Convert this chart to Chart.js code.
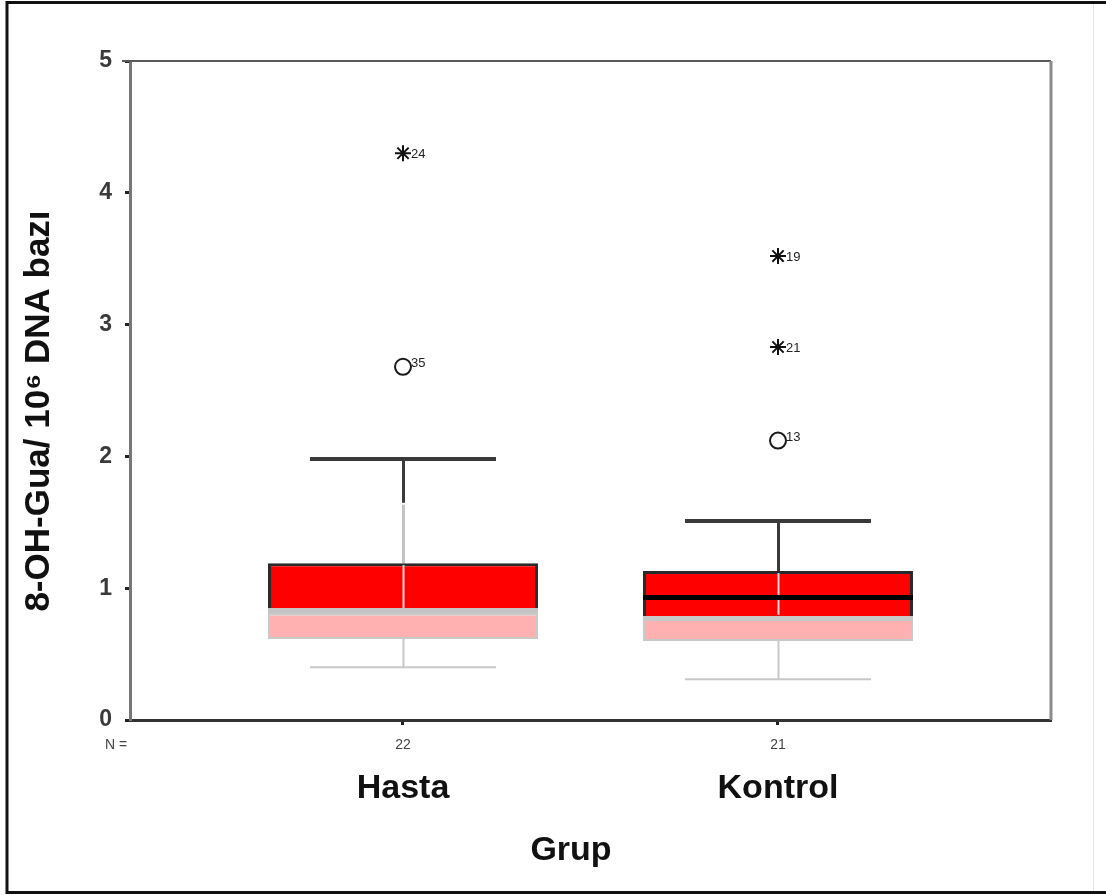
<!DOCTYPE html>
<html>
<head>
<meta charset="utf-8">
<script src="https://cdn.jsdelivr.net/npm/chart.js@4"></script>
<style>
  html, body { margin: 0; padding: 0; background: #fff; }
  canvas { display: block; }
</style>
</head>
<body>
<canvas id="c" width="1106" height="895"></canvas>
<script>
// ---------------- data ----------------
const categories   = ['Hasta', 'Kontrol'];
const groupX       = [1, 2];
const nCounts      = [22, 21];
const whiskerLow   = [0.40, 0.31];
const q1           = [0.615, 0.60];
const fadeSplit    = [0.83, 0.79];   // where the scanned red fill turns pink
const median       = [0.83, 0.93];
const q3           = [1.19, 1.13];
const whiskerHigh  = [1.98, 1.51];
const circleGroups = [1, 2];
const circleValues = [2.68, 2.12];
const circleIds    = ['35', '13'];
const starGroups   = [1, 2, 2];
const starValues   = [4.30, 2.83, 3.52];
const starIds      = ['24', '21', '19'];
const yTicks       = [0, 1, 2, 3, 4, 5];
const yTitle       = '8-OH-Gua/ 10\u2076 DNA baz\u0131';
const xTitle       = 'Grup';

// ---------------- styles ----------------
const FONT = '"Liberation Sans", Arial, Helvetica, sans-serif';
const medianColors   = ['#c4c4c4', '#000000'];
const upperDarkFrac  = [0.42, 1.0];
const capHalfUnits   = 0.248;

const redData  = groupX.map((x, i) => ({ x, y: [fadeSplit[i], q3[i]] }));
const pinkData = groupX.map((x, i) => ({ x, y: [q1[i], fadeSplit[i]] }));
const circleData = circleGroups.map((g, i) => ({ x: g, y: circleValues[i] }));
const starData   = starGroups.map((g, i) => ({ x: g, y: starValues[i] }));

const extras = {
  id: 'extras',
  beforeDraw(chart) {
    const ctx = chart.ctx;
    ctx.save();
    ctx.fillStyle = '#fff';
    ctx.fillRect(0, 0, chart.width, chart.height);
    ctx.strokeStyle = '#111';
    ctx.lineWidth = 3;
    ctx.beginPath();
    ctx.moveTo(1106, 2.5); ctx.lineTo(7, 2.5); ctx.lineTo(7, 892.5); ctx.lineTo(1106, 892.5);
    ctx.stroke();
    ctx.strokeStyle = '#e6e6e6';
    ctx.lineWidth = 1;
    ctx.beginPath(); ctx.moveTo(1093.5, 4); ctx.lineTo(1093.5, 891); ctx.stroke();
    ctx.restore();
  },
  beforeDatasetsDraw(chart) {
    const ctx = chart.ctx, xs = chart.scales.x, ys = chart.scales.y;
    ctx.save();
    groupX.forEach((g, i) => {
      const cx = Math.round(xs.getPixelForValue(g)) + 0.5;
      const l = xs.getPixelForValue(g - capHalfUnits), r = xs.getPixelForValue(g + capHalfUnits);
      const yTop = ys.getPixelForValue(whiskerHigh[i]);
      const yQ3 = ys.getPixelForValue(q3[i]);
      const yMid = yTop + (yQ3 - yTop) * upperDarkFrac[i];
      ctx.lineCap = 'butt';
      ctx.strokeStyle = '#3a3a3a'; ctx.lineWidth = 3;
      ctx.beginPath(); ctx.moveTo(cx, yTop); ctx.lineTo(cx, yMid); ctx.stroke();
      ctx.strokeStyle = '#c2c2c2'; ctx.lineWidth = 3;
      ctx.beginPath(); ctx.moveTo(cx, yMid + 2); ctx.lineTo(cx, yQ3); ctx.stroke();
      ctx.strokeStyle = '#3a3a3a'; ctx.lineWidth = 4;
      ctx.beginPath(); ctx.moveTo(l, yTop); ctx.lineTo(r, yTop); ctx.stroke();
      const yLow = ys.getPixelForValue(whiskerLow[i]);
      const yQ1 = ys.getPixelForValue(q1[i]);
      ctx.strokeStyle = '#c8c8c8'; ctx.lineWidth = 2;
      ctx.beginPath(); ctx.moveTo(cx, yQ1); ctx.lineTo(cx, yLow); ctx.stroke();
      ctx.beginPath(); ctx.moveTo(l, yLow); ctx.lineTo(r, yLow); ctx.stroke();
    });
    ctx.restore();
  },
  afterDatasetsDraw(chart) {
    const ctx = chart.ctx, xs = chart.scales.x, ys = chart.scales.y;
    ctx.save();
    const boxMeta = chart.getDatasetMeta(0);
    groupX.forEach((g, i) => {
      const bar = boxMeta.data[i];
      const half = bar.width / 2;
      const cx = Math.round(xs.getPixelForValue(g)) + 0.5;
      ctx.strokeStyle = 'rgba(255,255,255,0.85)'; ctx.lineWidth = 2;
      ctx.beginPath();
      ctx.moveTo(cx, ys.getPixelForValue(q3[i]) + 2);
      ctx.lineTo(cx, ys.getPixelForValue(fadeSplit[i]) - 1);
      ctx.stroke();
      const ym = ys.getPixelForValue(median[i]);
      ctx.strokeStyle = medianColors[i]; ctx.lineWidth = 5;
      ctx.beginPath(); ctx.moveTo(bar.x - half, ym); ctx.lineTo(bar.x + half, ym); ctx.stroke();
    });
    ctx.fillStyle = '#222';
    ctx.font = '13px ' + FONT;
    ctx.textAlign = 'left';
    ctx.textBaseline = 'middle';
    circleGroups.forEach((g, i) => {
      ctx.fillText(circleIds[i], xs.getPixelForValue(g) + 8, ys.getPixelForValue(circleValues[i]) - 3);
    });
    starGroups.forEach((g, i) => {
      ctx.fillText(starIds[i], xs.getPixelForValue(g) + 8, ys.getPixelForValue(starValues[i]) + 1);
    });
    ctx.restore();
  },
  afterDraw(chart) {
    const ctx = chart.ctx, a = chart.chartArea, xs = chart.scales.x;
    ctx.save();
    ctx.strokeStyle = '#5a5a5a'; ctx.lineWidth = 2;
    ctx.beginPath(); ctx.moveTo(a.left - 8, a.top); ctx.lineTo(a.right, a.top); ctx.stroke();
    ctx.strokeStyle = '#8a8a8a'; ctx.lineWidth = 3;
    ctx.beginPath(); ctx.moveTo(a.right, a.top); ctx.lineTo(a.right, a.bottom); ctx.stroke();
    ctx.fillStyle = '#444';
    ctx.font = '14px "Liberation Sans Narrow", ' + FONT;
    ctx.textBaseline = 'middle';
    ctx.textAlign = 'center';
    ctx.fillText('N =', 116, 745);
    groupX.forEach((g, i) => ctx.fillText(String(nCounts[i]), xs.getPixelForValue(g), 745));
    ctx.fillStyle = '#111';
    ctx.font = 'bold 34px ' + FONT;
    ctx.textBaseline = 'alphabetic';
    ctx.fillText(xTitle, 571, 860);
    ctx.translate(39, 411);
    ctx.rotate(-Math.PI / 2);
    ctx.font = 'bold 35px ' + FONT;
    ctx.textBaseline = 'middle';
    ctx.fillText(yTitle, 0, 0);
    ctx.restore();
  }
};

new Chart(document.getElementById('c'), {
  type: 'bar',
  data: {
    datasets: [
      {
        label: 'box-upper',
        data: redData,
        backgroundColor: '#ff0000',
        borderColor: '#2a2a2a',
        borderWidth: { top: 3, left: 3, right: 3, bottom: 0 },
        borderSkipped: false,
        grouped: false,
        categoryPercentage: 0.8,
        barPercentage: 0.9,
        order: 2
      },
      {
        label: 'box-lower',
        data: pinkData,
        backgroundColor: '#ffb1b1',
        borderColor: '#c9c9c9',
        borderWidth: { top: 5, left: 2, right: 2, bottom: 2 },
        borderSkipped: false,
        grouped: false,
        categoryPercentage: 0.8,
        barPercentage: 0.9,
        order: 3
      },
      {
        type: 'scatter',
        label: 'outliers',
        data: circleData,
        pointStyle: 'circle',
        radius: 8,
        backgroundColor: '#fff',
        borderColor: '#1a1a1a',
        borderWidth: 2,
        order: 1
      },
      {
        type: 'scatter',
        label: 'extremes',
        data: starData,
        pointStyle: 'star',
        radius: 8,
        backgroundColor: '#111',
        borderColor: '#111',
        borderWidth: 2,
        order: 0
      }
    ]
  },
  options: {
    responsive: false,
    animation: false,
    events: [],
    layout: { autoPadding: false, padding: { top: 61, right: 55, left: 0, bottom: 0 } },
    plugins: { legend: { display: false }, tooltip: { enabled: false } },
    scales: {
      x: {
        type: 'linear',
        offset: false,
        min: 0.272,
        max: 2.728,
        afterFit(s) { s.height = 175; },
        afterBuildTicks(s) { s.ticks = groupX.map(v => ({ value: v })); },
        grid: { offset: false, drawOnChartArea: false, drawTicks: true, tickLength: 5, tickWidth: 3, tickColor: '#222' },
        border: { display: true, color: '#333', width: 3 },
        ticks: {
          autoSkip: false,
          maxRotation: 0,
          padding: 43,
          color: '#111',
          font: { family: FONT, size: 34, weight: 'bold' },
          callback: (v) => categories[groupX.indexOf(v)] ?? ''
        }
      },
      y: {
        type: 'linear',
        min: 0,
        max: 5,
        afterFit(s) { s.width = 130; },
        afterBuildTicks(s) { s.ticks = yTicks.map(v => ({ value: v })); },
        grid: { drawOnChartArea: false, drawTicks: true, tickLength: 5, tickWidth: 3, tickColor: '#222' },
        border: { display: true, color: '#777', width: 3 },
        ticks: {
          padding: 13,
          color: '#3a3a3a',
          font: { family: FONT, size: 23, weight: 'bold' }
        }
      }
    }
  },
  plugins: [extras]
});
</script>
</body>
</html>
